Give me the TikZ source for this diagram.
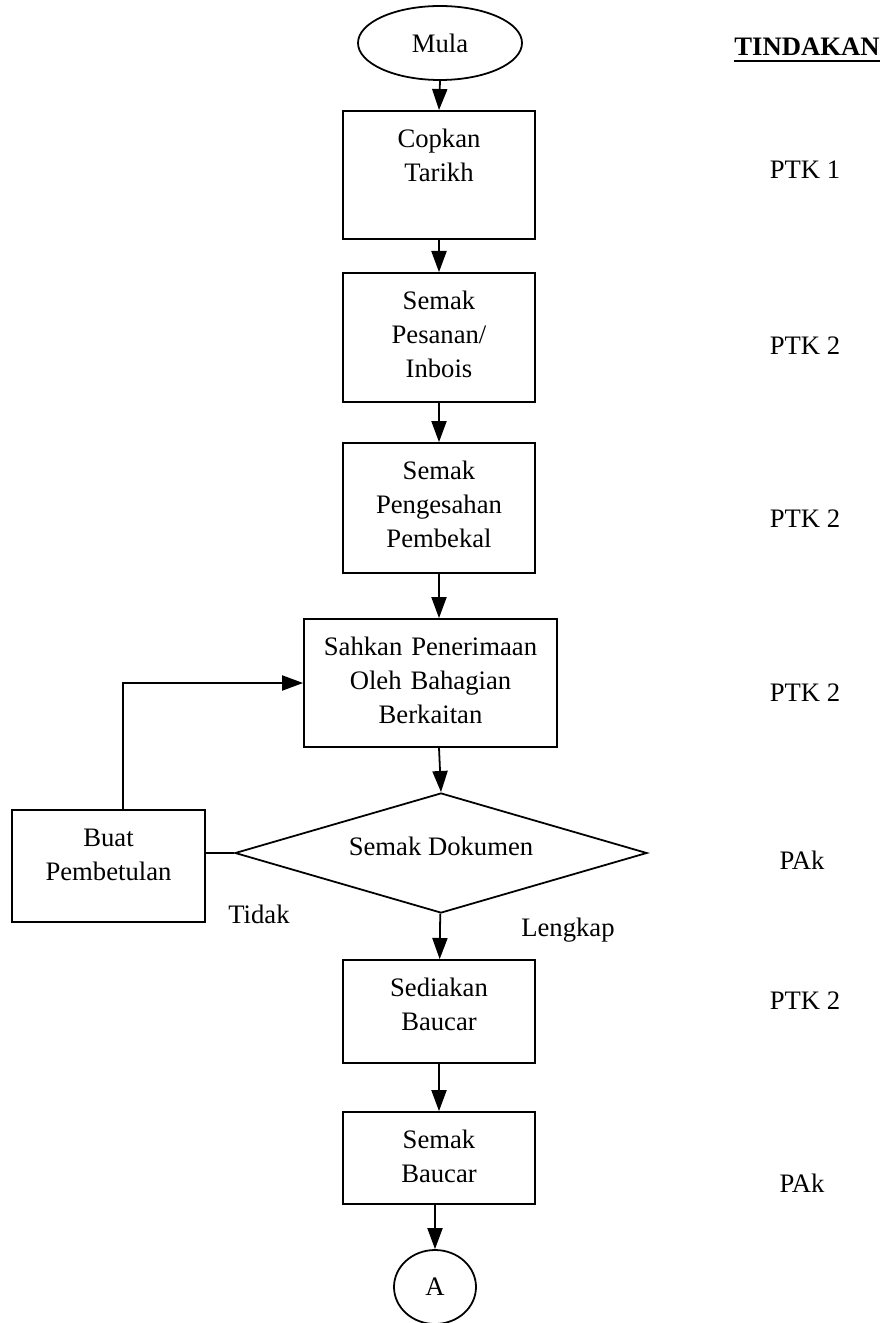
\documentclass[tikz,border=0pt]{standalone}
\usepackage{fontspec}
\setmainfont{Liberation Serif}
\usetikzlibrary{shapes.geometric, arrows.meta, calc}
\tikzstyle{stepbox} = [rectangle, draw=black, line width=0.8pt, inner xsep=0pt, inner ysep=0pt, text width=86.4pt, align=center, text height=16.4pt]
\tikzstyle{startstop} = [ellipse, draw=black, line width=0.8pt, inner sep=0pt]
\tikzstyle{decision} = [diamond, draw=black, line width=0.8pt, inner sep=0pt, aspect=3.4, minimum width=185.4pt, minimum height=54pt]
\tikzstyle{arrow} = [line width=0.8pt, -{Triangle[length=9.5pt, width=6.8pt]}]
\tikzstyle{role} = [anchor=base]

\begin{document}
\begin{tikzpicture}[x=0.45pt, y=-0.45pt, font=\fontsize{12pt}{15.4pt}\selectfont]
		\useasboundingbox (0,0) rectangle (883,1323);
		% main flow
		\node (mula) [startstop, minimum width=73.8pt, minimum height=33.3pt] at (440,43) {Mula};
		\node (copkan) [stepbox, text depth=41.2pt] at (439,175) {Copkan\\Tarikh};
		\node (pesanan) [stepbox, text depth=41.65pt] at (439,337.5) {Semak\\Pesanan/\\Inbois};
		\node (pengesahan) [stepbox, text depth=42.1pt] at (439,508) {Semak\\Pengesahan\\Pembekal};
		\node (sahkan) [stepbox, text width=113.85pt, text depth=41.2pt] at (430.5,683) {Sahkan Penerimaan\\Oleh Bahagian\\Berkaitan};
		\node (semak) [decision, text depth=6.3pt] at (441,853) {Semak Dokumen};
		\node (buat) [stepbox, text width=86.85pt, text depth=34pt] at (108.5,866) {Buat\\Pembetulan};
		\node (sediakan) [stepbox, text depth=29.95pt] at (439,1011.5) {Sediakan\\Baucar};
		\node (semakb) [stepbox, text depth=25pt] at (439,1158) {Semak\\Baucar};
		\node (sambung) [startstop, minimum width=36.9pt, minimum height=33.3pt] at (435,1287) {A};
		\node (tidak) [anchor=base] at (259,923) {Tidak};
		\node (lengkap) [anchor=base] at (568,936) {Lengkap};
		% tindakan column
		\node (tindakan) [anchor=base, inner xsep=0pt] at (807,56) {\textbf{TINDAKAN}};
		\node (ptka) [role] at (805,179) {PTK 1};
		\node (ptkb) [role] at (805,354) {PTK 2};
		\node (ptkc) [role] at (805,527) {PTK 2};
		\node (ptkd) [role] at (805,701) {PTK 2};
		\node (paka) [role] at (802,869) {PAk};
		\node (ptke) [role] at (805,1009) {PTK 2};
		\node (pakb) [role] at (802,1192) {PAk};
		\draw [line width=0.9pt] ([yshift=-2.3pt]tindakan.base west) -- ([yshift=-2.3pt]tindakan.base east);
		% connectors
		\draw [arrow] (mula.south) -- (copkan.north);
		\draw [arrow] (copkan) -- (pesanan);
		\draw [arrow] (pesanan) -- (pengesahan);
		\draw [arrow] (pengesahan.south) -- (pengesahan.south |- sahkan.north);
		\draw [arrow] (pengesahan.south |- sahkan.south) -- (semak.north);
		\draw [arrow] (semak) -- (sediakan);
		\draw [arrow] (sediakan) -- (semakb);
		\draw [arrow] (sambung.north |- semakb.south) -- (sambung.north);
		\draw [line width=0.8pt] (semak.west) -- (semak.west -| buat.east);
		\draw [arrow] ([xshift=6.5pt]buat.north) |- (sahkan.west);
\end{tikzpicture}
\end{document}
